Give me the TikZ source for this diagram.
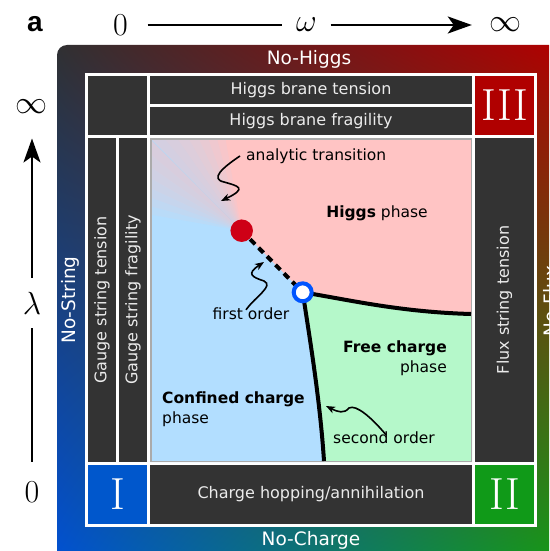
\RequirePackage{fix-cm}
\documentclass[tikz,border=0pt]{standalone}
\usepackage{amsmath, amssymb}
\usepackage{fontspec}
\setsansfont{DejaVu Sans}
\newfontfamily\panelfont{Liberation Sans}
\usetikzlibrary{arrows.meta, positioning, calc, shadings}
\definecolor{framegray}{RGB}{48,48,50}
\definecolor{framered}{RGB}{178,0,0}
\definecolor{frameblue}{RGB}{0,82,212}
\definecolor{framegreen}{RGB}{20,155,20}
\definecolor{cellgray}{RGB}{51,51,51}
\definecolor{cellred}{RGB}{176,0,0}
\definecolor{cellblue}{RGB}{0,87,204}
\definecolor{cellgreen}{RGB}{16,154,24}
\definecolor{higgspink}{RGB}{255,196,196}
\definecolor{confblue}{RGB}{178,222,255}
\definecolor{freegreen}{RGB}{181,248,202}
\definecolor{critred}{RGB}{206,0,22}
\definecolor{tripleblue}{RGB}{0,85,255}

\begin{document}
\begin{tikzpicture}[
  x=1pt, y=-1pt,
  cell/.style={fill=cellgray, draw=none, inner sep=0pt, text=white!92!black,
    font=\sffamily\fontsize{16}{18}\selectfont},
  numcell/.style={cell, minimum width=59pt, minimum height=59pt, text=white,
    font=\rmfamily\fontsize{45}{45}\selectfont},
  sidelbl/.style={text=white, inner sep=0pt, font=\sffamily\fontsize{18.5}{20}\selectfont},
  phaselbl/.style={inner sep=0pt, font=\sffamily\fontsize{15.5}{19.5}\selectfont},
  axislbl/.style={inner sep=0pt, font=\fontsize{32}{32}\selectfont},
  axisline/.style={line width=2.5pt},
  axisarrow/.style={line width=2.5pt, -{Stealth[length=24pt, width=17pt, inset=6pt]}},
  squiggle/.style={line width=1.6pt, -{Stealth[length=9pt, width=7pt, inset=2.5pt]}},
  boundary/.style={line width=4pt},
  critdot/.style={circle, fill=critred, minimum size=22.5pt, inner sep=0pt},
  tripledot/.style={circle, draw=tripleblue, line width=4pt, fill=white, minimum size=18pt, inner sep=0pt}
]
\path[use as bounding box, clip] (0,0) rectangle (549,551);

% outer frame and grid
\shade[upper left=framegray, upper right=framered, lower left=frameblue, lower right=framegreen,
  rounded corners=10pt] (57,45) rectangle (566,566);
\fill[white] (85,73) rectangle (537,527);

\node[cell, minimum width=59pt, minimum height=59pt] (blank) at (117.5,105.5) {};
\node[cell, minimum width=322pt, minimum height=28pt] (branetension) at (311,90) {Higgs brane tension};
\node[cell, minimum width=322pt, minimum height=28pt] (branefragility) at (311,121) {Higgs brane fragility};
\node[numcell, fill=cellred] (three) at (504.5,105.5) {III};
\node[cell, rotate=90, minimum width=324pt, minimum height=28pt] (gaugetension) at (102,300) {Gauge string tension};
\node[cell, rotate=90, minimum width=324pt, minimum height=28pt] (gaugefragility) at (133,300) {Gauge string fragility};
\node[cell, rotate=90, minimum width=324pt, minimum height=59pt] (fluxtension) at (504.5,300) {Flux string tension};
\node[numcell, fill=cellblue] (one) at (117.5,494.5) {I};
\node[cell, minimum width=322pt, minimum height=59pt] (hopping) at (311,494.5) {Charge hopping/annihilation};
\node[numcell, fill=cellgreen] (two) at (504.5,494.5) {II};

\node[sidelbl] (nohiggs) at (309,59) {No-Higgs};
\node[sidelbl] (nocharge) at (311,540) {No-Charge};
\node[sidelbl, rotate=90] (nostring) at (70,300) {No-String};
\node[sidelbl, rotate=90] (noflux) at (551,301) {No-Flux};

% phase diagram
\coordinate (crit) at (241.7,230.7);
\coordinate (triple) at (302.7,292.3);
\begin{scope}
  \clip (150,138) rectangle (472,462);
  \fill[higgspink] (150,138) rectangle (472,462);
  \fill[confblue] (150,138) -- (crit) -- (triple) .. controls (310,340) and (320,400) .. (324,462)
    -- (150,462) -- cycle;
  \fill[freegreen] (triple) .. controls (350,300) and (400,312) .. (472,314) -- (472,462)
    -- (324,462) .. controls (320,400) and (310,340) .. (triple) -- cycle;
  \foreach \a in {5,10,...,35} {
    \fill[higgspink, opacity=0.1] (crit) -- ++(225:220) arc[start angle=225, end angle=225-\a, radius=220] -- cycle;
    \fill[confblue, opacity=0.1] (crit) -- ++(225:220) arc[start angle=225, end angle=225+\a, radius=220] -- cycle;
  }
\end{scope}
\draw[black!33, line width=1.5pt] (150.75,138.75) rectangle (471.25,461.25);

\draw[boundary, dash pattern=on 7pt off 5pt] (crit) -- (triple);
\draw[boundary] (triple) .. controls (350,300) and (400,312) .. (471,314);
\draw[boundary] (triple) .. controls (310,340) and (320,400) .. (324,461);
\node[critdot] (critpoint) at (crit) {};
\node[tripledot] (triplepoint) at (triple) {};

\node[phaselbl] (higgs) at (377,213) {\textbf{Higgs} phase};
\node[phaselbl, align=right, anchor=east] (free) at (447,358) {\textbf{Free charge}\\phase};
\node[phaselbl, align=left, anchor=west] (confined) at (162,409) {\textbf{Confined charge}\\phase};
\node[phaselbl, anchor=west] (analytic) at (246,156) {analytic transition};
\node[phaselbl] (firstorder) at (251,314) {first order};
\node[phaselbl, anchor=west] (secondorder) at (333,438) {second order};

\coordinate (analytictip) at (221,201);
\coordinate (firsttip) at (264,262);
\coordinate (secondtip) at (326,406);
\draw[squiggle] ([xshift=-6pt]analytic.west) .. controls (222,168) and (210,179) .. (224,182)
  .. controls (238,186) and (248,188) .. (analytictip);
\draw[squiggle] ([xshift=-5pt,yshift=-2pt]firstorder.north) .. controls (256,296) and (274,286) .. (264,281)
  .. controls (252,277) and (246,274) .. (firsttip);
\draw[squiggle] ([xshift=2pt,yshift=-3pt]secondorder.north) .. controls (372,418) and (356,404) .. (349,408)
  .. controls (344,414) and (338,412) .. (secondtip);

% axes
\node[inner sep=0pt, font=\panelfont\bfseries\fontsize{28}{28}\selectfont] (panel) at (35,24) {a};
\node[axislbl] (wzero) at (120.5,25) {$0$};
\node[axislbl] (omega) at (306.5,25) {$\omega$};
\node[axislbl] (winf) at (505,25) {$\infty$};
\draw[axisline, shorten <=19.5pt, shorten >=13.5pt] (wzero) -- (omega);
\draw[axisarrow, shorten <=13.5pt, shorten >=17pt] (omega) -- (winf);
\node[axislbl] (lzero) at (32,492) {$0$};
\node[axislbl] (lambda) at (32,303) {$\lambda$};
\node[axislbl] (linf) at (32,107) {$\infty$};
\draw[axisline, shorten <=19.7pt, shorten >=13.9pt] (lzero) -- (lambda);
\draw[axisarrow, shorten <=13.9pt, shorten >=24.4pt] (lambda) -- (linf);
\end{tikzpicture}
\end{document}
